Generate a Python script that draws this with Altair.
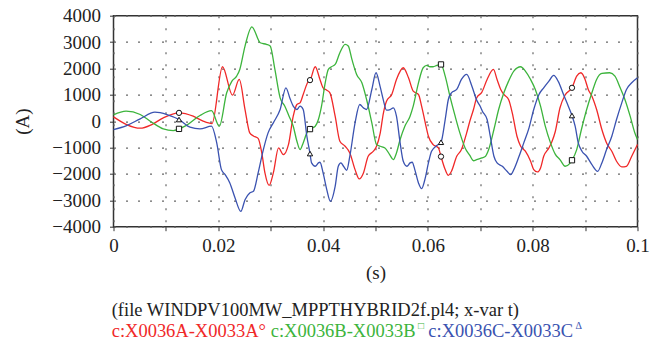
import altair as alt
import pandas as pd

# ---------------- data ----------------
t_red = [0.0, 0.0025, 0.0051, 0.0073, 0.0095, 0.0125, 0.0152, 0.0171, 0.0188, 0.0208,
         0.0227, 0.0240, 0.0251, 0.0260, 0.0267, 0.0276, 0.0283, 0.0289, 0.0297, 0.0305,
         0.0315, 0.0324, 0.0334, 0.0343, 0.0350, 0.0356, 0.0362, 0.0372, 0.0375, 0.0385,
         0.0394, 0.0400, 0.0407, 0.0413, 0.0423, 0.0432, 0.0442, 0.0451, 0.0461, 0.0469,
         0.0477, 0.0486, 0.0496, 0.0502, 0.0509, 0.0515, 0.0521, 0.0531, 0.0540, 0.0553,
         0.0563, 0.0572, 0.0582, 0.0588, 0.0595, 0.0601, 0.0610, 0.0620, 0.0625, 0.0633,
         0.0639, 0.0645, 0.0655, 0.0664, 0.0674, 0.0680, 0.0687, 0.0693, 0.0703, 0.0713,
         0.0725, 0.0732, 0.0739, 0.0745, 0.0754, 0.0761, 0.0770, 0.0777, 0.0786, 0.0796,
         0.0802, 0.0809, 0.0815, 0.0821, 0.0831, 0.0837, 0.0843, 0.0852, 0.0862, 0.0875,
         0.0884, 0.0892, 0.0900, 0.0906, 0.0913, 0.0922, 0.0932, 0.0941, 0.0951, 0.0960,
         0.0970, 0.0979, 0.0989, 0.1]
i_red = [165, -127, -266, -127, 127, 316, 190, 0, -89, 2064,
         987, 1582, 443, -443, -560, -650, -1203, -1962, -2431, -1962,
         -1013, -1266, -880, 190, 633, 696, 1013, 1519, 1557, 2064,
         1582, 1266, 1177, 1076, 190, -760, -950, -1203, -1836, -2190,
         -1962, -1329, -1139, -950, -450, 300, 760, 1013, 1582, 2026,
         1646, 1139, 1013, 570, -63, -570, -886, -1013, -1342, -1836,
         -2051, -1899, -1329, -1076, -443, 0, 443, 880, 1100, 1582,
         1962, 1582, 1203, 1013, 823, 316, -570, -950, -1139, -1519,
         -1836, -1924, -1772, -1329, -1013, -760, -400, 500, 1000, 1266,
         1709, 1836, 1582, 1203, 949, 443, -316, -823, -1139, -1519,
         -1734, -1709, -1329, -886]

t_green = [0.0, 0.0024, 0.0051, 0.0073, 0.0095, 0.0114, 0.0125, 0.0140, 0.0165, 0.0187,
           0.0202, 0.0216, 0.0226, 0.0235, 0.0241, 0.0251, 0.0264, 0.0280, 0.0292, 0.0299,
           0.0308, 0.0318, 0.0327, 0.0335, 0.0343, 0.0350, 0.0356, 0.0362, 0.0369, 0.0375,
           0.0385, 0.0391, 0.0397, 0.0404, 0.0410, 0.0416, 0.0423, 0.0432, 0.0442, 0.0448,
           0.0455, 0.0464, 0.0474, 0.0483, 0.0493, 0.0502, 0.0509, 0.0518, 0.0527, 0.0534,
           0.0540, 0.0547, 0.0556, 0.0566, 0.0572, 0.0582, 0.0591, 0.0598, 0.0604, 0.0610,
           0.0617, 0.0625, 0.0633, 0.0642, 0.0652, 0.0661, 0.0671, 0.0680, 0.0687, 0.0693,
           0.0703, 0.0710, 0.0716, 0.0726, 0.0735, 0.0745, 0.0754, 0.0764, 0.0777, 0.0786,
           0.0796, 0.0805, 0.0815, 0.0824, 0.0834, 0.0843, 0.0852, 0.0862, 0.0871, 0.0875,
           0.0884, 0.0893, 0.0903, 0.0913, 0.0922, 0.0932, 0.0947, 0.0957, 0.0967, 0.0976,
           0.0986, 0.0995, 0.1]
i_green = [240, 380, 253, -38, -291, -354, -291, -150, 215, 400,
           -190, 1076, 1519, 1709, 1962, 2849, 3580, 2975, 2912, 2849,
           1962, 886, 570, 190, -190, -760, -1076, -823, -443, -300,
           -190, 63, 570, 1456, 1962, 2064, 2152, 2595, 2912, 2849,
           2342, 1772, 1456, 823, -63, -886, -950, -1013, -1266, -1456,
           -1203, -696, -190, 190, 570, 1456, 2026, 2114, 2064, 2064,
           2114, 2152, 1709, 949, 190, -443, -1013, -1300, -1500, -1460,
           -1393, -1329, -1076, -316, 443, 1076, 1519, 1899, 2064, 1899,
           1582, 1203, 570, -190, -823, -1250, -1456, -1709, -1600, -1481,
           -1076, -316, 443, 1076, 1582, 1810, 1836, 1709, 1266, 823,
           190, -450, -696]

t_blue = [0.0, 0.0025, 0.0051, 0.0079, 0.0102, 0.0125, 0.0146, 0.0165, 0.0187, 0.0197,
          0.0206, 0.0213, 0.0222, 0.0232, 0.0243, 0.0251, 0.0260, 0.0267, 0.0276, 0.0286,
          0.0295, 0.0305, 0.0318, 0.0329, 0.0337, 0.0343, 0.0350, 0.0356, 0.0362, 0.0369,
          0.0375, 0.0378, 0.0385, 0.0391, 0.0394, 0.0400, 0.0407, 0.0414, 0.0423, 0.0429,
          0.0434, 0.0439, 0.0445, 0.0451, 0.0461, 0.0470, 0.0477, 0.0483, 0.0493, 0.0501,
          0.0509, 0.0515, 0.0521, 0.0528, 0.0534, 0.0540, 0.0547, 0.0553, 0.0560, 0.0566,
          0.0570, 0.0575, 0.0582, 0.0588, 0.0595, 0.0601, 0.0607, 0.0617, 0.0625, 0.0633,
          0.0639, 0.0645, 0.0655, 0.0664, 0.0674, 0.0684, 0.0693, 0.0700, 0.0704, 0.0713,
          0.0719, 0.0726, 0.0732, 0.0742, 0.0751, 0.0758, 0.0764, 0.0774, 0.0783, 0.0793,
          0.0802, 0.0812, 0.0821, 0.0831, 0.0840, 0.0849, 0.0859, 0.0868, 0.0875, 0.0881,
          0.0887, 0.0894, 0.0903, 0.0913, 0.0924, 0.0932, 0.0941, 0.0951, 0.0960, 0.0970,
          0.0979, 0.0989, 0.1]
i_blue = [-316, -165, 89, 342, 253, 63, -228, -291, -190, -823,
          -1836, -2026, -2342, -2912, -3418, -2975, -2722, -2659, -1962, -1076,
          -443, -63, 443, 1266, 850, 570, 443, 570, 443, -570,
          -1228, -1582, -1709, -1582, -1557, -1962, -2595, -3038, -2469, -1709,
          -1582, -1709, -1861, -1329, -63, 633, 506, 443, 1203, 1836,
          1300, 800, 420, 443, 506, 190, -823, -1519, -1709, -1582,
          -1557, -1836, -2342, -2557, -2152, -1582, -1139, -924, -798, 63,
          823, 1076, 1203, 1582, 1772, 1329, 800, 560, 380, 63,
          -570, -1329, -1582, -1709, -1899, -2026, -1836, -1329, -823, -253,
          443, 1013, 1266, 1519, 1734, 1500, 1000, 570, 215, -190,
          -823, -1139, -1329, -1646, -1899, -1582, -1076, -570, 63, 696,
          1203, 1456, 1646]

marker_t = [0.0125, 0.0375, 0.0625, 0.0875]
marker_red = [316, 1557, -1342, 1266]
marker_green = [-291, -300, 2152, -1481]
marker_blue = [63, -1228, -798, 215]

phases = ["A", "B", "C"]
colors = ["#f02828", "#3cb43c", "#3a52b0"]
x_ticks = [0.0, 0.01, 0.02, 0.03, 0.04, 0.05, 0.06, 0.07, 0.08, 0.09, 0.1]
y_ticks = [-4000, -3000, -2000, -1000, 0, 1000, 2000, 3000, 4000]

line1 = "(file WINDPV100MW_MPPTHYBRID2f.pl4; x-var t)"
leg_red = "c:X0036A-X0033A°"
leg_green = "c:X0036B-X0033B"
leg_blue = "c:X0036C-X0033C"
sup_green = "□"
sup_blue = "Δ"

# ---------------- build ----------------
frames = []
for name, ts, vs in [("A", t_red, i_red), ("B", t_green, i_green), ("C", t_blue, i_blue)]:
    frames.append(pd.DataFrame({"t": ts, "i": vs, "phase": name}))
df = pd.concat(frames, ignore_index=True)

FONT = "Liberation Serif"
x_scale = alt.Scale(domain=[0, 0.1], nice=False, zero=False)
y_scale = alt.Scale(domain=[-4000, 4000], nice=False)

x_axis = alt.Axis(values=x_ticks, title="(s)",
                  labelExpr="abs(round(datum.value*100) % 2) == 0 ? format(datum.value, '~g') : ''",
                  titleX=262, titleY=46, titleBaseline="middle", titleAlign="center",
                  labelPadding=6, tickSize=4, labelOverlap=False, labelFlush=False)
y_axis = alt.Axis(values=y_ticks, title="(A)", format="d",
                  titleX=-91, titleY=105.5, titleAngle=270, titleBaseline="middle",
                  titleAlign="center", labelPadding=9, tickSize=4,
                  labelOverlap=False, labelFlush=False)

X = alt.X("t:Q", scale=x_scale, axis=x_axis)
Y = alt.Y("i:Q", scale=y_scale, axis=y_axis)

lines = alt.Chart(df).mark_line(strokeWidth=1.3, interpolate="monotone").encode(
    x=X, y=Y,
    color=alt.Color("phase:N", scale=alt.Scale(domain=phases, range=colors), legend=None),
)

def markers(vals, shape):
    d = pd.DataFrame({"t": marker_t, "i": vals})
    return alt.Chart(d).mark_point(shape=shape, filled=True, fill="white", stroke="#111",
                                   strokeWidth=1, size=28, opacity=1).encode(x=X, y=Y)

def text(label, x, y, color, size=18.5):
    d = pd.DataFrame({"label": [label]})
    return alt.Chart(d).mark_text(align="left", baseline="alphabetic", font=FONT,
                                  fontSize=size, color=color).encode(
        text="label:N", x=alt.value(x), y=alt.value(y))

chart = alt.layer(
    lines,
    markers(marker_red, "circle"),
    markers(marker_green, "square"),
    markers(marker_blue, "triangle-up"),
    text(line1, -1.8, 300.3, "#222"),
    text(leg_red, -1.8, 321.3, colors[0]),
    text(leg_green, 157.2, 321.3, colors[1]),
    text(sup_green, 304.5, 313, colors[1], 10),
    text(leg_blue, 314.8, 321.3, colors[2]),
    text(sup_blue, 462, 313, colors[2], 10),
).properties(
    width=524, height=211,
    autosize=alt.AutoSizeParams(type="none"),
    padding={"left": 105.5, "top": 7.7, "right": 18, "bottom": 125},
).configure_view(
    stroke="#333", strokeWidth=1.5
).configure_axis(
    labelFont=FONT, labelFontSize=19, labelColor="#222",
    titleFont=FONT, titleFontSize=19, titleFontWeight="normal", titleColor="#222",
    grid=True, gridDash=[2, 10], gridColor="#666", gridWidth=1.2, gridOpacity=1,
    domain=False, tickColor="#333",
)

chart.save("out.html", embed_options={"renderer": "svg", "actions": False})
